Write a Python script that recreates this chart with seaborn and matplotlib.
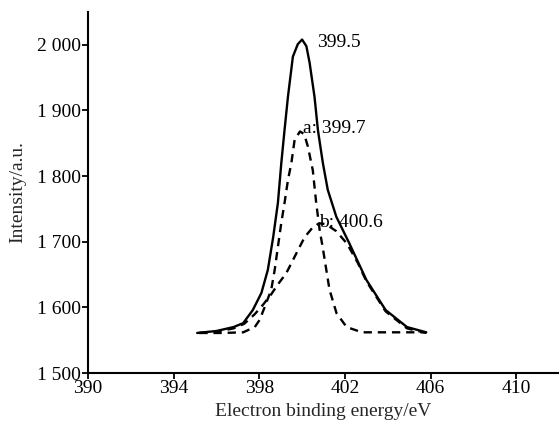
import numpy as np
import pandas as pd
import matplotlib
matplotlib.use("Agg")
import matplotlib.pyplot as plt
from matplotlib.ticker import FuncFormatter
import seaborn as sns

# Values
total_x = [395.1, 396.0, 396.8, 397.25, 397.7, 398.1, 398.4, 398.65, 398.87, 399.03, 399.18,
           399.34, 399.57, 399.8, 400.0, 400.2, 400.35, 400.58, 400.74, 400.97, 401.2,
           401.6, 402.2, 403.0, 403.9, 404.9, 405.8]
total_y = [1561, 1564, 1570, 1576, 1596, 1622, 1657, 1707, 1759, 1820, 1870,
           1921, 1982, 2001, 2008, 1998, 1973, 1921, 1870, 1820, 1779,
           1738, 1698, 1642, 1596, 1570, 1562]

peak_a_x = [395.2, 396.3, 397.25, 397.79, 398.02, 398.33, 398.56, 398.72, 398.87, 399.03,
            399.18, 399.34, 399.5, 399.65, 399.9, 400.1, 400.27, 400.5, 400.66, 400.82,
            400.96, 401.28, 401.61, 402.08, 402.8, 404.0, 405.8]
peak_a_y = [1561, 1561, 1562, 1570, 1581, 1607, 1627, 1657, 1692, 1729,
            1759, 1794, 1820, 1855, 1868, 1864, 1845, 1809, 1759, 1718,
            1692, 1627, 1591, 1570, 1562, 1562, 1562]

peak_b_x = [395.2, 396.0, 396.8, 397.3, 397.8, 398.2, 398.56, 398.87, 399.26, 399.65, 400.12,
            400.5, 400.8, 401.1, 401.6, 402.1, 402.6, 403.0, 403.9, 404.9, 405.8]
peak_b_y = [1561, 1563, 1568, 1575, 1590, 1605, 1620, 1635, 1652, 1677, 1707,
            1722, 1728, 1727, 1716, 1697, 1668, 1640, 1594, 1568, 1561]

labels = ["399.5", "a: 399.7", "b: 400.6"]
label_x = [400.7, 400.05, 400.8]
label_y = [2003, 1872, 1729]

x_ticks = [390, 394, 398, 402, 406, 410]
y_ticks = [1500, 1600, 1700, 1800, 1900, 2000]

sns.set_style("ticks")
plt.rcParams['font.family'] = ['Liberation Serif', 'DejaVu Serif']
plt.rcParams['font.size'] = 14

fig = plt.figure(figsize=(5.59, 4.21), dpi=100)
ax = fig.add_axes([0.1574, 0.114, 0.8426, 0.8575])

total = pd.DataFrame({'energy': total_x, 'intensity': total_y})
a = pd.DataFrame({'energy': peak_a_x, 'intensity': peak_a_y})
b = pd.DataFrame({'energy': peak_b_x, 'intensity': peak_b_y})

sns.lineplot(data=total, x='energy', y='intensity', ax=ax, color='black', linewidth=1.7)
sns.lineplot(data=a, x='energy', y='intensity', ax=ax, color='black', linewidth=1.7,
             linestyle=(0, (3.5, 2.5)))
sns.lineplot(data=b, x='energy', y='intensity', ax=ax, color='black', linewidth=1.7,
             linestyle=(0, (3.5, 2.5)))

for txt, tx, ty in zip(labels, label_x, label_y):
    ax.text(tx, ty, txt, ha='left', va='center', fontsize=14, color='black')

ax.set_xlim(390, 412)
ax.set_ylim(1500, 2050)
ax.set_xticks(x_ticks)
ax.set_yticks(y_ticks)
ax.yaxis.set_major_formatter(FuncFormatter(lambda v, p: f"{int(v):,}".replace(",", " ")))

sns.despine(ax=ax)
for s in ['left', 'bottom']:
    ax.spines[s].set_linewidth(1.5)
    ax.spines[s].set_color('black')
ax.tick_params(direction='out', length=4, width=1.3, colors='black', labelsize=14, pad=1)

ax.set_xlabel('Electron binding energy/eV', fontsize=14, labelpad=4)
ax.set_ylabel('Intensity/a.u.', fontsize=14, labelpad=8)

fig.savefig('out.png', dpi=100)
